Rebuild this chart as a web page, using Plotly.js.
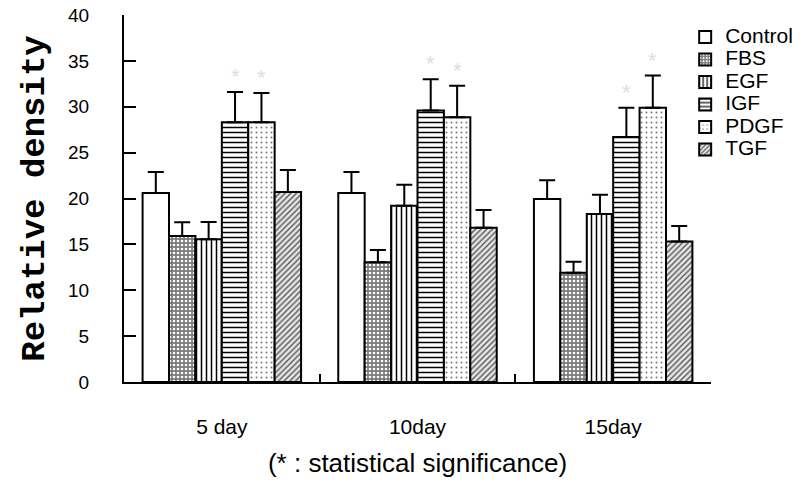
<!DOCTYPE html>
<html>
<head>
<meta charset="utf-8">
<script src="https://cdn.plot.ly/plotly-3.0.1.min.js"></script>
<style>html,body{margin:0;padding:0;background:#fff}#chart{width:810px;height:483px}</style>
</head>
<body>
<div id="chart"></div>
<script>
// ---- data ----
const categories = ['5 day', '10day', '15day'];
const seriesNames = ['Control', 'FBS', 'EGF', 'IGF', 'PDGF', 'TGF'];
const controlVals = [20.6, 20.6, 19.95];
const controlErr  = [2.3, 2.3, 2.05];
const fbsVals     = [15.9, 13.05, 11.9];
const fbsErr      = [1.5, 1.35, 1.2];
const egfVals     = [15.55, 19.2, 18.3];
const egfErr      = [1.9, 2.3, 2.1];
const igfVals     = [28.3, 29.6, 26.7];
const igfErr      = [3.3, 3.4, 3.2];
const pdgfVals    = [28.3, 28.85, 29.9];
const pdgfErr     = [3.2, 3.45, 3.5];
const tgfVals     = [20.7, 16.8, 15.3];
const tgfErr      = [2.4, 1.95, 1.7];
// statistical significance markers (1 = '*')
const controlSig = [0, 0, 0];
const fbsSig     = [0, 0, 0];
const egfSig     = [0, 0, 0];
const igfSig     = [1, 1, 1];
const pdgfSig    = [1, 1, 1];
const tgfSig     = [0, 0, 0];
const yTicks = [0, 5, 10, 15, 20, 25, 30, 35, 40];

const values = [controlVals, fbsVals, egfVals, igfVals, pdgfVals, tgfVals];
const errors = [controlErr, fbsErr, egfErr, igfErr, pdgfErr, tgfErr];
const sigs = [controlSig, fbsSig, egfSig, igfSig, pdgfSig, tgfSig];

const patterns = [
  {shape: '', bgcolor: '#ffffff'},
  {shape: '.', fgcolor: '#ffffff', bgcolor: '#7a7a7a', size: 4, solidity: 0.35},
  {shape: '|', fgcolor: '#000000', bgcolor: '#ffffff', size: 5, solidity: 0.3},
  {shape: '-', fgcolor: '#000000', bgcolor: '#ffffff', size: 5, solidity: 0.3},
  {shape: '.', fgcolor: '#777777', bgcolor: '#ffffff', size: 5, solidity: 0.12},
  {shape: '/', fgcolor: '#555555', bgcolor: '#e6e6e6', size: 4, solidity: 0.35}
];

const font = '"Liberation Sans", Arial, sans-serif';
const bargap = 0.19;

const traces = seriesNames.map((name, i) => ({
  type: 'bar',
  name: '<span style="font-size:21px">' + name + '</span>',
  x: categories,
  y: values[i],
  marker: {
    color: '#ffffff',
    line: {color: '#000000', width: 2},
    pattern: patterns[i]
  },
  error_y: {
    type: 'data',
    symmetric: false,
    array: errors[i],
    arrayminus: errors[i].map(() => 0),
    color: '#000000',
    thickness: 2,
    width: 8
  },
  hoverinfo: 'x+y'
}));

// significance asterisks placed above the error bars
const annotations = [];
const groupW = 1 - bargap;
const barW = groupW / seriesNames.length;
seriesNames.forEach((name, i) => {
  categories.forEach((c, g) => {
    if (sigs[i][g]) {
      annotations.push({
        x: g - groupW / 2 + (i + 0.5) * barW,
        y: values[i][g] + errors[i][g],
        xref: 'x', yref: 'y',
        text: '*',
        showarrow: false,
        yanchor: 'bottom',
        yshift: 1,
        font: {family: font, size: 22, color: '#dedede'}
      });
    }
  });
});

const layout = {
  width: 810, height: 483,
  margin: {l: 124, r: 96, t: 15, b: 101},
  paper_bgcolor: '#ffffff', plot_bgcolor: '#ffffff',
  barmode: 'group', bargap: bargap, bargroupgap: 0,
  showlegend: true,
  legend: {
    x: 0.956, xanchor: 'left', y: 0.984, yanchor: 'top',
    font: {family: font, size: 15, color: '#000'},
    bgcolor: 'rgba(0,0,0,0)', traceorder: 'normal'
  },
  xaxis: {
    type: 'category',
    showline: true, linecolor: '#000', linewidth: 2,
    ticks: 'inside', tickson: 'boundaries', ticklen: 8, tickwidth: 2, tickcolor: '#000',
    showgrid: false, zeroline: false,
    tickfont: {family: font, size: 21, color: '#000'},
    ticklabelstandoff: 25,
    title: {text: '(* : statistical significance)', font: {family: font, size: 26, color: '#000'}, standoff: 17}
  },
  yaxis: {
    range: [0, 40], tickvals: yTicks,
    showline: true, linecolor: '#000', linewidth: 2,
    ticks: 'inside', ticklen: 12, tickwidth: 2, tickcolor: '#000',
    showgrid: false, zeroline: false,
    tickfont: {family: font, size: 19, color: '#000'},
    ticklabelstandoff: 29,
    title: {text: 'Relative density', font: {family: '"Liberation Mono", "Courier New", monospace', size: 34, color: '#000', weight: 'bold'}, standoff: 13}
  },
  annotations: annotations
};

Plotly.newPlot('chart', traces, layout, {displayModeBar: false, staticPlot: true});
</script>
</body>
</html>
